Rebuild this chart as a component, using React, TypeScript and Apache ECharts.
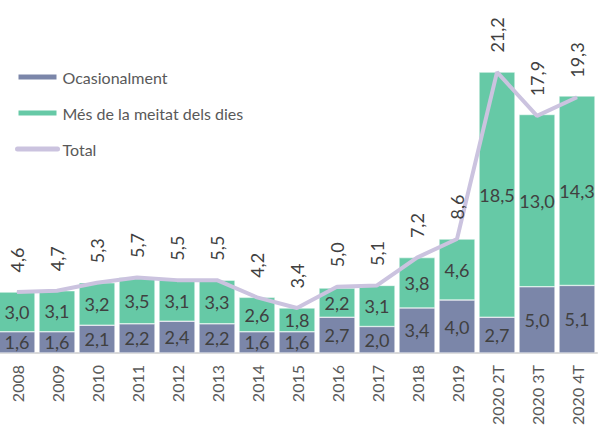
import React, { useEffect, useRef } from "react";
import * as echarts from "echarts";

const categories = ["2008", "2009", "2010", "2011", "2012", "2013", "2014", "2015", "2016", "2017", "2018", "2019", "2020 2T", "2020 3T", "2020 4T"];
const ocasionalment = [1.6, 1.6, 2.1, 2.2, 2.4, 2.2, 1.6, 1.6, 2.7, 2.0, 3.4, 4.0, 2.7, 5.0, 5.1];
const mesMeitat = [3.0, 3.1, 3.2, 3.5, 3.1, 3.3, 2.6, 1.8, 2.2, 3.1, 3.8, 4.6, 18.5, 13.0, 14.3];
const total = [4.6, 4.7, 5.3, 5.7, 5.5, 5.5, 4.2, 3.4, 5.0, 5.1, 7.2, 8.6, 21.2, 17.9, 19.3];

const FONT = "Lato";
const fmt = (p: any) => Number(p.value).toFixed(1).replace(".", ",");

export default function App() {
  const ref = useRef<HTMLDivElement>(null);
  useEffect(() => {
    if (!ref.current) return;
    const chart = echarts.init(ref.current, undefined, { renderer: "svg" });
    chart.setOption({
      animation: false,
      backgroundColor: "#ffffff",
      textStyle: { fontFamily: FONT },
      legend: {
        orient: "vertical",
        left: 10,
        top: 64,
        itemWidth: 40,
        itemHeight: 7,
        itemGap: 20,
        textStyle: { fontSize: 16, color: "#595959", fontFamily: FONT },
        data: [
          { name: "Ocasionalment", icon: "rect" },
          { name: "Més de la meitat dels dies", icon: "rect" },
          { name: "Total", itemStyle: { opacity: 0 }, lineStyle: { width: 5, cap: "round", color: "#cbc3df" } },
        ],
      },
      grid: { left: -3, width: 600, top: 35, height: 318, outerBoundsMode: "none", containLabel: false },
      xAxis: {
        type: "category",
        data: categories,
        axisLine: { lineStyle: { color: "#d9d9d9", width: 2 } },
        axisTick: { show: false },
        axisLabel: { rotate: 90, margin: 12, fontSize: 16, color: "#595959", fontFamily: FONT },
      },
      yAxis: { type: "value", min: 0, max: 24, show: false, splitLine: { show: false } },
      series: [
        {
          name: "Ocasionalment",
          type: "bar",
          stack: "a",
          data: ocasionalment,
          barCategoryGap: "10%",
          itemStyle: { color: "#7b86a9", borderColor: "#ffffff", borderWidth: 0.5 },
          label: { show: true, position: "inside", fontSize: 18, color: "#404040", fontFamily: FONT, formatter: fmt },
        },
        {
          name: "Més de la meitat dels dies",
          type: "bar",
          stack: "a",
          data: mesMeitat,
          barCategoryGap: "10%",
          itemStyle: { color: "#66c9a6", borderColor: "#ffffff", borderWidth: 0.5 },
          label: { show: true, position: "inside", fontSize: 18, color: "#404040", fontFamily: FONT, formatter: fmt },
        },
        {
          name: "Total",
          type: "line",
          data: total,
          symbol: "circle",
          symbolSize: 1,
          showSymbol: true,
          z: 5,
          lineStyle: { color: "#cbc3df", width: 4 },
          itemStyle: { color: "#cbc3df" },
          label: {
            show: true,
            position: "top",
            distance: 19,
            rotate: 90,
            align: "left",
            verticalAlign: "middle",
            fontSize: 18,
            color: "#404040",
            fontFamily: FONT,
            formatter: fmt,
          },
        },
      ],
    });
    return () => chart.dispose();
  }, []);
  return <div ref={ref} style={{ position: "fixed", left: 0, top: 0, width: 607, height: 425 }} />;
}
